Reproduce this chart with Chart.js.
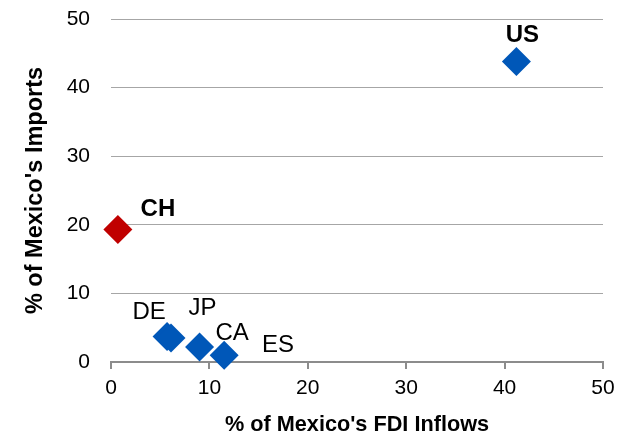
<!DOCTYPE html>
<html>
<head>
<meta charset="utf-8">
<script src="https://cdn.jsdelivr.net/npm/chart.js@4.4.1/dist/chart.umd.min.js"></script>
<style>
    html, body { margin: 0; padding: 0; background: #fff; }
    #wrap { width: 631px; height: 439px; }
</style>
</head>
<body>
<div id="wrap"><canvas id="chart" width="631" height="439"></canvas></div>
<script>
// partner countries (blue) and China (red)
const partners = ["US", "DE", "ES", "JP", "CA"];
const partnerFdi = [41.2, 5.7, 6.1, 9.0, 11.5];      // % of Mexico's FDI inflows
const partnerImports = [43.8, 3.7, 3.5, 2.2, 1.0];  // % of Mexico's imports
const china = ["CH"];
const chinaFdi = [0.7];
const chinaImports = [19.3];
const xTicks = [0, 10, 20, 30, 40, 50];
const yTicks = [0, 10, 20, 30, 40, 50];

const FONT = "'Liberation Sans', Arial, sans-serif";

// where each country label sits relative to its marker (px)
const labelOffsets = {
    US: [6, -26], CH: [40, -20], DE: [-18, -24],
    JP: [3, -39], CA: [8, -22], ES: [107, 7]
};
const boldLabels = ["US", "CH"];

function toPoints(xs, ys) {
    return xs.map((x, i) => ({ x: x, y: ys[i] }));
}

const pointLabels = {
    id: "pointLabels",
    afterDatasetsDraw(chart) {
        const ctx = chart.ctx;
        ctx.save();
        ctx.textAlign = "center";
        ctx.textBaseline = "middle";
        ctx.fillStyle = "#000";
        chart.data.datasets.forEach((ds, di) => {
            const meta = chart.getDatasetMeta(di);
            meta.data.forEach((pt, i) => {
                const name = ds.names[i];
                const off = labelOffsets[name] || [0, -20];
                const bold = boldLabels.includes(name);
                ctx.font = (bold ? "bold " : "") + "24px " + FONT;
                ctx.fillText(name, pt.x + off[0], pt.y + off[1]);
            });
        });
        ctx.restore();
    }
};

const ctx = document.getElementById("chart").getContext("2d");
new Chart(ctx, {
    type: "scatter",
    data: {
        datasets: [
            {
                names: partners,
                data: toPoints(partnerFdi, partnerImports),
                pointStyle: "rectRot",
                pointRadius: 14.5,
                pointHoverRadius: 14.5,
                backgroundColor: "#0057B8",
                borderWidth: 0,
                clip: false
            },
            {
                names: china,
                data: toPoints(chinaFdi, chinaImports),
                pointStyle: "rectRot",
                pointRadius: 14.5,
                pointHoverRadius: 14.5,
                backgroundColor: "#C00000",
                borderWidth: 0,
                clip: false
            }
        ]
    },
    options: {
        responsive: false,
        animation: false,
        devicePixelRatio: 1,
        layout: { padding: { top: 19, right: 28, bottom: 0, left: 0 } },
        plugins: {
            legend: { display: false },
            tooltip: { enabled: false }
        },
        scales: {
            x: {
                type: "linear",
                min: xTicks[0],
                max: xTicks[xTicks.length - 1],
                afterBuildTicks: (scale) => { scale.ticks = xTicks.map(v => ({ value: v })); },
                afterFit: (scale) => {
                    scale.height = 77;
                    scale.paddingLeft = 0;
                    scale.paddingRight = 0;
                },
                ticks: {
                    color: "#000",
                    padding: 7,
                    font: { family: FONT, size: 21 }
                },
                grid: {
                    drawOnChartArea: false,
                    drawTicks: true,
                    tickLength: 7,
                    color: "#8C8C8C",
                    lineWidth: 2
                },
                border: { display: true, color: "#8C8C8C", width: 2 },
                title: {
                    display: true,
                    text: "% of Mexico's FDI Inflows",
                    color: "#000",
                    padding: { top: 0, bottom: 1 },
                    font: { family: FONT, size: 21.7, weight: "bold" }
                }
            },
            y: {
                type: "linear",
                min: yTicks[0],
                max: yTicks[yTicks.length - 1],
                afterBuildTicks: (scale) => { scale.ticks = yTicks.map(v => ({ value: v })); },
                afterFit: (scale) => {
                    scale.width = 111;
                    scale.paddingTop = 0;
                    scale.paddingBottom = 0;
                },
                ticks: {
                    color: "#000",
                    padding: 21,
                    font: { family: FONT, size: 21 }
                },
                grid: {
                    drawTicks: false,
                    color: "#A6A6A6",
                    lineWidth: 1
                },
                border: { display: false },
                title: {
                    display: true,
                    text: "% of Mexico's Imports",
                    color: "#000",
                    padding: { top: 21, bottom: 0 },
                    font: { family: FONT, size: 23.5, weight: "bold" }
                }
            }
        }
    },
    plugins: [pointLabels]
});
</script>
</body>
</html>
